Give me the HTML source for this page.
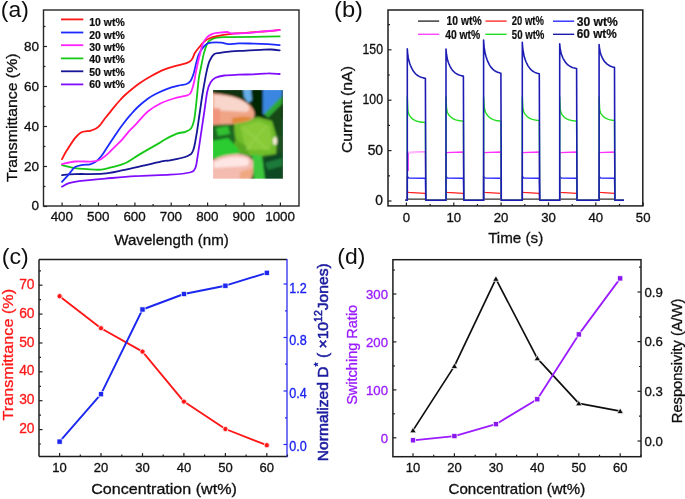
<!DOCTYPE html><html><head><meta charset="utf-8"><style>html,body{margin:0;padding:0;background:#fff;}svg{display:block;will-change:transform;}text{font-family:"Liberation Sans",sans-serif;}</style></head><body>
<svg width="685" height="499" viewBox="0 0 685 499">
<defs><filter id="gb" x="0" y="0" width="100%" height="100%" filterUnits="userSpaceOnUse"><feGaussianBlur stdDeviation="0.45"/></filter><filter id="bl" x="-5%" y="-5%" width="110%" height="110%"><feGaussianBlur stdDeviation="0.8"/></filter><filter id="bl2"><feGaussianBlur stdDeviation="0.6"/></filter><clipPath id="insclip"><rect x="213" y="90" width="70" height="88.7"/></clipPath></defs>
<rect width="685" height="499" fill="#fff"/><g filter="url(#gb)"><rect width="685" height="499" fill="#fff"/>
<g clip-path="url(#insclip)"><g filter="url(#bl)">
<rect x="212" y="89" width="72" height="91" fill="#1a5020"/>
<rect x="212" y="89" width="72" height="30" fill="#0c3010"/>
<polygon points="243,89 252,89 252,100 248,103 244,97" fill="#66aee8"/>
<polygon points="251,89 264,89 262,116 258,119 253,112" fill="#062806"/>
<polygon points="263,89 282,89 282,96 266,114 263,114" fill="#3a86e0"/>
<polygon points="264,114 282,96 282,104 268,118" fill="#2ea834"/>
<polygon points="268,118 282,104 282,136 274,132" fill="#124a18"/>
<polygon points="234,122 258,117 272,121 277,138 276,154 256,157 235,153" fill="#70bc2a"/>
<polygon points="240,126 258,121 270,126 272,140 270,150 246,150" fill="#88ca38"/>
<polygon points="236,140 246,146 250,156 236,153" fill="#58a824"/>
<path d="M244,128 L268,150 M266,126 L246,150" stroke="#a0d858" stroke-width="1.4" fill="none" opacity="0.6"/>
<polygon points="212,123 232,124 236,140 230,148 212,146" fill="#1f6a20"/>
<polygon points="212,141 228,138 236,146 240,152 232,158 212,158" fill="#2ccc30"/>
<polygon points="216,128 228,126 230,134 218,136" fill="#30c030"/>
<ellipse cx="275" cy="141" rx="2.2" ry="4" fill="#f0ead0"/>
<polygon points="262,160 282,152 282,180 264,180" fill="#0f4a22"/>
<polygon points="265,163 282,158 282,166 268,170" fill="#1f7a3a"/>
<polygon points="252,154 262,156 265,180 254,180" fill="#3cc83c"/>
<path d="M212,93 L216,93.5 C228,94.5 240,97.5 247,103 C253,107 256,113 254,117 C252,121 244,122.5 233,124 L212,125 Z" fill="#f0a486"/>
<path d="M214,95 C228,95.5 240,98 247,104 C250,107 250,111 246,112 L214,110 Z" fill="#f8d6cc"/>
<path d="M232,118 C240,117 248,116 252,118 C249,121 242,122.5 232,123.5 Z" fill="#e08838"/>
<rect x="212" y="108" width="8" height="16" fill="#f0907a" opacity="0.8"/>
<path d="M212,160 C220,156 228,154 236,154 C244,154 250,156 253,161 L253,172 C252,178 250,180 248,180 L212,180 Z" fill="#f4bcb0"/>
<path d="M214,162 C224,157 236,156 246,158 C250,160 250,164 246,166 L214,168 Z" fill="#fde6e4"/>
<path d="M240,172 L253,168 L252,178 L240,180 Z" fill="#f0a880"/>
</g></g>
<path d="M62.0,186.6 C63.2,186.0 66.2,184.1 69.0,183.2 C71.8,182.3 73.0,182.0 79.0,181.2 C85.0,180.4 95.7,179.4 105.1,178.6 C114.5,177.8 124.4,176.8 135.2,176.2 C146.0,175.5 160.9,175.3 170.0,174.7 C179.1,174.1 185.6,173.6 189.8,172.5 C194.0,171.4 194.0,170.7 195.3,168.1 C196.6,165.5 196.6,162.6 197.5,157.1 C198.4,151.6 199.7,142.4 200.8,135.1 C201.9,127.8 203.0,120.3 204.1,113.0 C205.2,105.7 206.3,96.1 207.4,91.0 C208.5,85.9 209.4,84.4 210.7,82.2 C212.0,80.0 213.2,78.8 215.4,77.7 C217.7,76.6 220.3,76.0 224.2,75.5 C228.1,75.0 233.9,74.9 238.8,74.7 C243.7,74.5 248.5,74.5 253.4,74.3 C258.3,74.1 263.6,73.3 268.0,73.3 C272.4,73.2 277.8,73.9 279.7,74.0" fill="none" stroke="#8010ff" stroke-width="1.8" stroke-linejoin="round" stroke-linecap="round" />
<path d="M62.0,175.2 C64.2,175.0 68.2,174.3 75.0,174.1 C81.8,173.8 95.1,174.4 103.1,173.7 C111.1,173.0 116.4,171.4 123.1,170.1 C129.8,168.8 136.5,167.2 143.2,165.7 C149.9,164.2 158.7,162.0 163.2,161.1 C167.7,160.2 165.9,161.2 170.0,160.4 C174.1,159.6 183.8,157.7 187.6,156.0 C191.4,154.3 191.6,154.0 193.1,150.5 C194.6,147.0 195.3,141.3 196.4,135.1 C197.5,128.8 198.6,120.3 199.7,113.0 C200.8,105.7 201.8,98.0 203.0,91.0 C204.2,84.0 205.6,76.1 206.7,71.1 C207.8,66.1 208.4,63.7 209.6,60.9 C210.8,58.1 212.3,55.6 214.0,54.3 C215.7,52.9 216.9,53.3 219.8,52.8 C222.7,52.3 227.1,51.8 231.5,51.4 C235.9,51.0 241.2,51.0 246.1,50.7 C251.0,50.5 256.6,50.1 260.7,49.9 C264.8,49.7 267.7,49.4 270.9,49.5 C274.1,49.6 278.2,50.2 279.7,50.4" fill="none" stroke="#141496" stroke-width="1.8" stroke-linejoin="round" stroke-linecap="round" />
<path d="M62.0,165.1 C64.2,165.6 70.8,167.4 75.0,168.1 C79.2,168.8 82.7,168.8 87.0,169.1 C91.3,169.4 97.1,170.0 101.1,169.7 C105.1,169.4 107.1,168.5 111.1,167.4 C115.1,166.3 120.3,165.4 125.1,163.2 C129.9,161.0 134.3,157.4 140.0,154.1 C145.7,150.8 155.2,145.4 159.2,143.1 C163.2,140.8 161.1,141.6 164.1,140.0 C167.1,138.4 173.3,135.1 176.9,133.7 C180.5,132.3 183.1,132.7 185.4,131.8 C187.7,130.9 189.4,130.5 190.9,128.5 C192.4,126.5 193.3,124.0 194.2,119.6 C195.1,115.2 195.7,108.6 196.4,102.0 C197.1,95.4 197.9,85.6 198.6,80.0 C199.3,74.4 199.9,72.6 200.8,68.2 C201.7,63.8 202.8,57.5 203.8,53.6 C204.8,49.7 205.7,47.0 206.7,44.8 C207.7,42.6 207.9,41.6 209.6,40.4 C211.3,39.2 213.2,38.0 216.9,37.5 C220.6,37.0 225.4,37.3 231.5,37.2 C237.6,37.1 245.4,36.9 253.4,36.8 C261.4,36.7 275.3,36.5 279.7,36.4" fill="none" stroke="#14c814" stroke-width="1.8" stroke-linejoin="round" stroke-linecap="round" />
<path d="M62.0,181.8 C63.2,180.5 66.8,176.6 69.0,174.1 C71.2,171.6 72.7,168.6 75.0,167.1 C77.3,165.6 80.5,165.3 83.0,164.8 C85.5,164.3 87.9,164.8 90.0,164.3 C92.1,163.8 93.7,163.2 95.6,161.8 C97.5,160.5 99.3,158.5 101.2,156.2 C103.1,153.9 105.0,150.6 106.9,147.8 C108.8,145.0 110.6,142.1 112.5,139.3 C114.4,136.5 116.2,133.6 118.1,130.9 C120.0,128.2 121.6,125.9 123.7,123.2 C125.8,120.5 128.3,117.4 130.7,114.7 C133.0,112.0 134.9,109.7 137.8,107.0 C140.7,104.3 145.1,100.7 148.1,98.5 C151.1,96.3 152.9,95.3 156.1,93.7 C159.3,92.1 163.6,90.2 167.3,88.8 C171.0,87.4 175.3,86.4 178.5,85.6 C181.7,84.8 184.5,84.8 186.5,84.0 C188.5,83.2 189.3,82.7 190.5,81.0 C191.7,79.3 192.6,76.8 193.5,74.0 C194.4,71.2 195.2,67.2 196.0,64.0 C196.8,60.8 197.4,57.6 198.5,55.0 C199.6,52.4 200.9,50.3 202.3,48.5 C203.7,46.7 205.2,45.1 206.7,44.1 C208.2,43.1 208.7,42.9 211.1,42.6 C213.5,42.4 218.4,42.4 221.3,42.6 C224.2,42.9 225.7,44.0 228.6,44.1 C231.5,44.2 234.7,43.5 238.8,43.4 C242.9,43.3 248.5,43.5 253.4,43.6 C258.3,43.7 263.6,43.9 268.0,44.1 C272.4,44.4 277.8,44.9 279.7,45.1" fill="none" stroke="#1c2cff" stroke-width="1.8" stroke-linejoin="round" stroke-linecap="round" />
<path d="M62.0,159.1 C62.8,157.6 64.8,153.6 67.0,150.1 C69.2,146.6 72.7,141.0 75.0,138.1 C77.3,135.2 79.0,133.7 81.0,132.5 C83.0,131.3 85.5,131.5 87.0,131.2 C88.5,130.9 88.6,131.3 90.0,130.9 C91.4,130.5 94.0,129.7 95.6,128.8 C97.2,127.9 98.4,126.8 99.8,125.3 C101.2,123.8 102.3,121.8 104.0,119.7 C105.7,117.6 107.8,114.9 109.7,112.6 C111.6,110.2 113.5,107.7 115.3,105.6 C117.0,103.5 118.5,101.8 120.2,100.0 C121.9,98.2 122.5,97.2 125.6,94.5 C128.7,91.8 134.2,87.1 138.5,84.0 C142.8,80.9 147.0,78.4 151.3,76.0 C155.6,73.6 159.8,71.3 164.1,69.6 C168.4,67.9 173.2,66.7 176.9,65.6 C180.6,64.5 184.1,64.1 186.5,63.2 C188.9,62.3 190.1,61.7 191.5,60.0 C192.9,58.3 193.7,55.0 195.0,52.8 C196.3,50.6 197.9,48.8 199.4,47.0 C200.9,45.2 202.1,43.4 203.8,41.9 C205.5,40.4 207.4,39.2 209.6,38.2 C211.8,37.2 213.2,36.8 216.9,36.1 C220.6,35.4 226.6,34.5 231.5,33.9 C236.4,33.3 241.2,33.2 246.1,32.8 C251.0,32.4 256.3,32.0 260.7,31.7 C265.1,31.4 269.2,31.2 272.4,30.9 C275.6,30.6 278.5,30.1 279.7,29.9" fill="none" stroke="#ff1414" stroke-width="1.8" stroke-linejoin="round" stroke-linecap="round" />
<path d="M62.0,164.1 C64.2,163.7 70.3,161.9 75.0,161.5 C79.7,161.1 86.6,161.7 90.0,161.6 C93.4,161.5 93.7,161.5 95.6,161.1 C97.5,160.7 99.1,160.3 101.2,159.0 C103.3,157.7 106.0,155.5 108.3,153.4 C110.6,151.3 113.0,148.7 115.3,146.3 C117.6,144.0 120.0,141.9 122.3,139.3 C124.6,136.7 127.0,133.5 129.3,130.9 C131.6,128.3 133.2,127.2 136.3,123.9 C139.4,120.6 144.0,114.7 148.1,111.3 C152.2,107.9 156.6,105.4 160.9,103.3 C165.2,101.2 169.3,99.8 173.7,98.5 C178.1,97.2 184.5,96.2 187.3,95.3 C190.1,94.4 189.6,94.2 190.5,93.0 C191.4,91.8 191.8,90.2 192.5,88.0 C193.2,85.8 193.9,83.0 194.5,80.0 C195.1,77.0 195.6,73.3 196.3,70.0 C197.0,66.7 197.8,63.0 198.5,60.0 C199.2,57.0 199.9,54.5 200.5,52.0 C201.1,49.5 201.3,47.2 202.3,44.8 C203.3,42.4 205.0,39.3 206.7,37.5 C208.4,35.7 210.6,34.7 212.5,33.9 C214.4,33.1 216.0,33.1 218.4,32.8 C220.8,32.5 224.9,31.9 227.1,32.0 C229.3,32.1 228.3,33.2 231.5,33.4 C234.7,33.6 241.2,33.4 246.1,33.1 C251.0,32.8 255.1,32.2 260.7,31.7 C266.3,31.2 276.5,30.4 279.7,30.2" fill="none" stroke="#ff22ff" stroke-width="1.8" stroke-linejoin="round" stroke-linecap="round" />
<rect x="43.5" y="10" width="255.5" height="196" fill="none" stroke="#262626" stroke-width="1.4"/>
<line x1="62.1" y1="206.0" x2="62.1" y2="202.5" stroke="#222" stroke-width="1.2"/>
<line x1="98.5" y1="206.0" x2="98.5" y2="202.5" stroke="#222" stroke-width="1.2"/>
<line x1="134.9" y1="206.0" x2="134.9" y2="202.5" stroke="#222" stroke-width="1.2"/>
<line x1="171.2" y1="206.0" x2="171.2" y2="202.5" stroke="#222" stroke-width="1.2"/>
<line x1="207.6" y1="206.0" x2="207.6" y2="202.5" stroke="#222" stroke-width="1.2"/>
<line x1="244.0" y1="206.0" x2="244.0" y2="202.5" stroke="#222" stroke-width="1.2"/>
<line x1="280.4" y1="206.0" x2="280.4" y2="202.5" stroke="#222" stroke-width="1.2"/>
<line x1="80.3" y1="206.0" x2="80.3" y2="204.0" stroke="#222" stroke-width="1.2"/>
<line x1="116.7" y1="206.0" x2="116.7" y2="204.0" stroke="#222" stroke-width="1.2"/>
<line x1="153.1" y1="206.0" x2="153.1" y2="204.0" stroke="#222" stroke-width="1.2"/>
<line x1="189.4" y1="206.0" x2="189.4" y2="204.0" stroke="#222" stroke-width="1.2"/>
<line x1="225.8" y1="206.0" x2="225.8" y2="204.0" stroke="#222" stroke-width="1.2"/>
<line x1="262.2" y1="206.0" x2="262.2" y2="204.0" stroke="#222" stroke-width="1.2"/>
<line x1="43.5" y1="206.5" x2="47.0" y2="206.5" stroke="#222" stroke-width="1.2"/>
<line x1="43.5" y1="166.5" x2="47.0" y2="166.5" stroke="#222" stroke-width="1.2"/>
<line x1="43.5" y1="126.5" x2="47.0" y2="126.5" stroke="#222" stroke-width="1.2"/>
<line x1="43.5" y1="86.5" x2="47.0" y2="86.5" stroke="#222" stroke-width="1.2"/>
<line x1="43.5" y1="46.5" x2="47.0" y2="46.5" stroke="#222" stroke-width="1.2"/>
<line x1="43.5" y1="186.5" x2="45.5" y2="186.5" stroke="#222" stroke-width="1.2"/>
<line x1="43.5" y1="146.5" x2="45.5" y2="146.5" stroke="#222" stroke-width="1.2"/>
<line x1="43.5" y1="106.5" x2="45.5" y2="106.5" stroke="#222" stroke-width="1.2"/>
<line x1="43.5" y1="66.5" x2="45.5" y2="66.5" stroke="#222" stroke-width="1.2"/>
<line x1="43.5" y1="26.5" x2="45.5" y2="26.5" stroke="#222" stroke-width="1.2"/>
<text x="61.8" y="220.8" font-size="13.4" text-anchor="middle" fill="#111" stroke="#111" stroke-width="0.32" font-weight="normal" >400</text>
<text x="98.2" y="220.8" font-size="13.4" text-anchor="middle" fill="#111" stroke="#111" stroke-width="0.32" font-weight="normal" >500</text>
<text x="134.6" y="220.8" font-size="13.4" text-anchor="middle" fill="#111" stroke="#111" stroke-width="0.32" font-weight="normal" >600</text>
<text x="170.9" y="220.8" font-size="13.4" text-anchor="middle" fill="#111" stroke="#111" stroke-width="0.32" font-weight="normal" >700</text>
<text x="207.3" y="220.8" font-size="13.4" text-anchor="middle" fill="#111" stroke="#111" stroke-width="0.32" font-weight="normal" >800</text>
<text x="243.7" y="220.8" font-size="13.4" text-anchor="middle" fill="#111" stroke="#111" stroke-width="0.32" font-weight="normal" >900</text>
<text x="280.1" y="220.8" font-size="13.4" text-anchor="middle" fill="#111" stroke="#111" stroke-width="0.32" font-weight="normal" >1000</text>
<text x="39.0" y="210.4" font-size="13.5" text-anchor="end" fill="#111" stroke="#111" stroke-width="0.32" font-weight="normal" >0</text>
<text x="39.0" y="171.1" font-size="13.5" text-anchor="end" fill="#111" stroke="#111" stroke-width="0.32" font-weight="normal" >20</text>
<text x="39.0" y="131.1" font-size="13.5" text-anchor="end" fill="#111" stroke="#111" stroke-width="0.32" font-weight="normal" >40</text>
<text x="39.0" y="91.1" font-size="13.5" text-anchor="end" fill="#111" stroke="#111" stroke-width="0.32" font-weight="normal" >60</text>
<text x="39.0" y="51.1" font-size="13.5" text-anchor="end" fill="#111" stroke="#111" stroke-width="0.32" font-weight="normal" >80</text>
<text x="17.5" y="117.8" font-size="15.5" text-anchor="middle" fill="#111" stroke="#111" stroke-width="0.32" font-weight="normal" textLength="128.5" lengthAdjust="spacingAndGlyphs" transform="rotate(-90 17.5 117.8)" >Transmittance (%)</text>
<text x="171.5" y="245.0" font-size="15.4" text-anchor="middle" fill="#111" stroke="#111" stroke-width="0.32" font-weight="normal" textLength="114.5" lengthAdjust="spacingAndGlyphs" >Wavelength (nm)</text>
<text x="0.8" y="16.6" font-size="22" text-anchor="start" fill="#111" stroke="#111" stroke-width="0.0" font-weight="normal" textLength="28" lengthAdjust="spacingAndGlyphs" >(a)</text>
<line x1="61.0" y1="19.4" x2="83.3" y2="19.4" stroke="#ff1414" stroke-width="1.8"/>
<text x="89.3" y="26.2" font-size="10.4" text-anchor="start" fill="#111" stroke="#111" stroke-width="0.22" font-weight="bold" textLength="35.4" lengthAdjust="spacingAndGlyphs" >10 wt%</text>
<line x1="61.0" y1="32.5" x2="83.3" y2="32.5" stroke="#1c2cff" stroke-width="1.8"/>
<text x="89.3" y="38.7" font-size="10.4" text-anchor="start" fill="#111" stroke="#111" stroke-width="0.22" font-weight="bold" textLength="35.4" lengthAdjust="spacingAndGlyphs" >20 wt%</text>
<line x1="61.0" y1="45.2" x2="83.3" y2="45.2" stroke="#ff22ff" stroke-width="1.8"/>
<text x="89.3" y="51.0" font-size="10.4" text-anchor="start" fill="#111" stroke="#111" stroke-width="0.22" font-weight="bold" textLength="35.4" lengthAdjust="spacingAndGlyphs" >30 wt%</text>
<line x1="61.0" y1="58.4" x2="83.3" y2="58.4" stroke="#14c814" stroke-width="1.8"/>
<text x="89.3" y="63.3" font-size="10.4" text-anchor="start" fill="#111" stroke="#111" stroke-width="0.22" font-weight="bold" textLength="35.4" lengthAdjust="spacingAndGlyphs" >40 wt%</text>
<line x1="61.0" y1="71.3" x2="83.3" y2="71.3" stroke="#141496" stroke-width="1.8"/>
<text x="89.3" y="75.7" font-size="10.4" text-anchor="start" fill="#111" stroke="#111" stroke-width="0.22" font-weight="bold" textLength="35.4" lengthAdjust="spacingAndGlyphs" >50 wt%</text>
<line x1="61.0" y1="84.4" x2="83.3" y2="84.4" stroke="#8010ff" stroke-width="1.8"/>
<text x="89.3" y="87.9" font-size="10.4" text-anchor="start" fill="#111" stroke="#111" stroke-width="0.22" font-weight="bold" textLength="35.4" lengthAdjust="spacingAndGlyphs" >60 wt%</text>
<path d="M405.5,200.2 L407.3,200.2 L407.3,199.0 L425.4,199.2 L425.8,200.2 L446.0,200.2 L446.0,199.0 L463.4,199.2 L463.8,200.2 L483.6,200.2 L483.6,199.0 L500.9,199.2 L501.3,200.2 L522.3,200.2 L522.3,199.0 L539.3,199.2 L539.7,200.2 L559.7,200.2 L559.7,199.0 L576.6,199.2 L577.0,200.2 L599.1,200.2 L599.1,199.0 L614.5,199.2 L614.9,200.2 L624.0,200.2" fill="none" stroke="#303030" stroke-width="1.2" stroke-linejoin="round"/>
<path d="M405.5,200.2 L407.3,200.2 L407.3,191.6 L408.3,192.4 L425.4,193.3 L425.8,200.2 L446.0,200.2 L446.0,191.6 L447.0,192.4 L463.4,193.3 L463.8,200.2 L483.6,200.2 L483.6,191.6 L484.6,192.4 L500.9,193.3 L501.3,200.2 L522.3,200.2 L522.3,191.6 L523.3,192.4 L539.3,193.3 L539.7,200.2 L559.7,200.2 L559.7,191.6 L560.7,192.4 L576.6,193.3 L577.0,200.2 L599.1,200.2 L599.1,191.6 L600.1,192.4 L614.5,193.3 L614.9,200.2 L624.0,200.2" fill="none" stroke="#ff2020" stroke-width="1.3" stroke-linejoin="round"/>
<path d="M405.5,200.2 L407.3,200.2 L407.3,176.5 L408.8,178.0 L425.4,178.3 L425.8,200.2 L446.0,200.2 L446.0,176.5 L447.5,178.0 L463.4,178.3 L463.8,200.2 L483.6,200.2 L483.6,176.5 L485.1,178.0 L500.9,178.3 L501.3,200.2 L522.3,200.2 L522.3,176.5 L523.8,178.0 L539.3,178.3 L539.7,200.2 L559.7,200.2 L559.7,176.5 L561.2,178.0 L576.6,178.3 L577.0,200.2 L599.1,200.2 L599.1,176.5 L600.6,178.0 L614.5,178.3 L614.9,200.2 L624.0,200.2" fill="none" stroke="#2a2aff" stroke-width="1.4" stroke-linejoin="round"/>
<path d="M405.5,200.2 L407.3,200.2 L407.3,152.6 L425.4,152.0 L425.8,200.2 L446.0,200.2 L446.0,152.6 L463.4,152.0 L463.8,200.2 L483.6,200.2 L483.6,152.6 L500.9,152.0 L501.3,200.2 L522.3,200.2 L522.3,152.6 L539.3,152.0 L539.7,200.2 L559.7,200.2 L559.7,152.6 L576.6,152.0 L577.0,200.2 L599.1,200.2 L599.1,152.6 L614.5,152.0 L614.9,200.2 L624.0,200.2" fill="none" stroke="#ff33ff" stroke-width="1.3" stroke-linejoin="round"/>
<line x1="408.1" y1="152.6" x2="424.8" y2="152.3" stroke="#ffb8ff" stroke-width="1.5"/>
<line x1="408.3" y1="153.0" x2="408.3" y2="171.0" stroke="#ff40ff" stroke-width="1.2"/>
<path d="M405.5,200.2 L407.3,200.2 L407.3,97.0 L407.8,109.3 L407.9,110.3 L408.2,111.8 L408.5,113.3 L409.0,114.4 L409.4,115.4 L410.0,116.2 L410.6,117.0 L411.3,117.8 L412.0,118.4 L412.8,119.1 L413.6,119.6 L414.5,120.1 L415.4,120.6 L416.3,121.0 L417.3,121.3 L418.4,121.6 L419.5,121.8 L420.6,122.0 L421.7,122.2 L422.9,122.3 L424.1,122.4 L425.4,122.5 L425.8,200.2 L446.0,200.2 L446.0,97.0 L446.5,107.5 L446.6,108.5 L446.9,110.0 L447.2,111.5 L447.6,112.7 L448.1,113.7 L448.6,114.5 L449.2,115.3 L449.8,116.1 L450.5,116.8 L451.3,117.4 L452.1,118.0 L452.9,118.6 L453.8,119.0 L454.7,119.4 L455.7,119.8 L456.7,120.1 L457.7,120.3 L458.8,120.6 L459.9,120.7 L461.0,120.9 L462.2,121.0 L463.4,121.1 L463.8,200.2 L483.6,200.2 L483.6,97.0 L484.1,105.4 L484.2,106.5 L484.5,108.3 L484.8,110.0 L485.2,111.4 L485.7,112.5 L486.2,113.5 L486.8,114.4 L487.4,115.3 L488.1,116.1 L488.9,116.9 L489.6,117.5 L490.5,118.1 L491.3,118.7 L492.3,119.2 L493.2,119.6 L494.2,119.9 L495.2,120.2 L496.3,120.5 L497.4,120.7 L498.5,120.8 L499.7,121.0 L500.9,121.1 L501.3,200.2 L522.3,200.2 L522.3,97.0 L522.8,106.8 L522.9,107.8 L523.2,109.3 L523.5,110.8 L523.9,112.0 L524.3,113.0 L524.9,113.8 L525.4,114.6 L526.1,115.4 L526.7,116.1 L527.5,116.7 L528.2,117.3 L529.1,117.9 L529.9,118.3 L530.8,118.8 L531.7,119.1 L532.7,119.4 L533.7,119.7 L534.8,119.9 L535.9,120.1 L537.0,120.3 L538.1,120.4 L539.3,120.5 L539.7,200.2 L559.7,200.2 L559.7,97.0 L560.2,108.3 L560.3,109.2 L560.6,110.6 L560.9,112.0 L561.3,113.1 L561.7,114.0 L562.3,114.9 L562.8,115.6 L563.5,116.3 L564.1,117.0 L564.8,117.6 L565.6,118.1 L566.4,118.6 L567.3,119.1 L568.2,119.5 L569.1,119.8 L570.1,120.1 L571.1,120.3 L572.1,120.6 L573.2,120.7 L574.3,120.9 L575.4,121.0 L576.6,121.1 L577.0,200.2 L599.1,200.2 L599.1,97.0 L599.6,108.3 L599.7,109.1 L599.9,110.4 L600.2,111.6 L600.6,112.7 L601.0,113.6 L601.5,114.4 L602.0,115.1 L602.6,115.7 L603.2,116.3 L603.8,116.9 L604.5,117.4 L605.2,117.9 L606.0,118.3 L606.8,118.7 L607.7,119.1 L608.6,119.4 L609.5,119.7 L610.4,119.9 L611.4,120.1 L612.4,120.2 L613.4,120.4 L614.5,120.5 L614.9,200.2 L624.0,200.2" fill="none" stroke="#22dd22" stroke-width="1.4" stroke-linejoin="round"/>
<path d="M405.5,200.2 L407.3,200.2 L407.3,48.7 L407.4,50.2 L407.6,52.8 L407.9,55.5 L408.3,57.9 L408.8,60.0 L409.3,61.9 L409.8,63.7 L410.4,65.3 L411.1,66.9 L411.8,68.4 L412.5,69.7 L413.3,71.0 L414.1,72.1 L414.9,73.1 L415.8,74.0 L416.8,74.8 L417.7,75.5 L418.7,76.1 L419.8,76.7 L420.8,77.1 L421.9,77.5 L423.0,77.8 L424.2,78.1 L425.4,78.3 L425.8,200.2 L446.0,200.2 L446.0,49.0 L446.1,50.4 L446.3,52.6 L446.6,55.0 L447.0,57.2 L447.4,59.2 L447.9,60.9 L448.4,62.5 L449.0,64.0 L449.6,65.4 L450.3,66.8 L451.0,68.0 L451.7,69.1 L452.5,70.2 L453.3,71.1 L454.2,72.0 L455.1,72.8 L456.0,73.4 L457.0,74.0 L458.0,74.5 L459.0,74.9 L460.1,75.3 L461.1,75.6 L462.3,75.9 L463.4,76.1 L463.8,200.2 L483.6,200.2 L483.6,40.0 L483.7,41.7 L483.9,44.4 L484.2,47.4 L484.6,50.0 L485.0,52.4 L485.5,54.6 L486.0,56.5 L486.6,58.3 L487.2,60.1 L487.9,61.7 L488.6,63.2 L489.3,64.6 L490.1,65.9 L490.9,67.1 L491.8,68.1 L492.6,69.1 L493.6,69.9 L494.5,70.6 L495.5,71.2 L496.5,71.8 L497.6,72.2 L498.7,72.6 L499.8,72.9 L500.9,73.2 L501.3,200.2 L522.3,200.2 L522.3,42.3 L522.4,43.8 L522.6,46.5 L522.9,49.2 L523.3,51.7 L523.7,54.0 L524.1,56.0 L524.7,57.9 L525.2,59.6 L525.8,61.2 L526.5,62.8 L527.2,64.2 L527.9,65.6 L528.7,66.8 L529.5,67.9 L530.3,68.9 L531.2,69.8 L532.1,70.6 L533.0,71.3 L534.0,71.9 L535.0,72.4 L536.0,72.8 L537.1,73.2 L538.2,73.5 L539.3,73.8 L539.7,200.2 L559.7,200.2 L559.7,43.7 L559.8,44.9 L560.0,47.0 L560.3,49.1 L560.7,51.1 L561.1,52.9 L561.5,54.5 L562.1,55.9 L562.6,57.3 L563.2,58.6 L563.9,59.8 L564.6,60.9 L565.3,62.0 L566.0,62.9 L566.8,63.8 L567.7,64.6 L568.5,65.3 L569.4,65.9 L570.4,66.5 L571.3,67.0 L572.3,67.4 L573.3,67.7 L574.4,68.0 L575.5,68.3 L576.6,68.5 L577.0,200.2 L599.1,200.2 L599.1,44.6 L599.2,45.6 L599.4,47.4 L599.7,49.3 L600.0,51.1 L600.4,52.7 L600.8,54.1 L601.2,55.4 L601.8,56.7 L602.3,57.8 L602.9,58.9 L603.5,60.0 L604.2,61.0 L604.9,61.9 L605.6,62.7 L606.4,63.4 L607.1,64.1 L608.0,64.7 L608.8,65.3 L609.7,65.8 L610.6,66.2 L611.5,66.6 L612.5,66.9 L613.5,67.2 L614.5,67.4 L614.9,200.2 L624.0,200.2" fill="none" stroke="#1e1eb4" stroke-width="1.6" stroke-linejoin="round"/>
<rect x="388" y="10" width="254.79999999999995" height="195.9" fill="none" stroke="#1e1e1e" stroke-width="1.5"/>
<line x1="406.4" y1="205.9" x2="406.4" y2="202.4" stroke="#222" stroke-width="1.2"/>
<line x1="453.8" y1="205.9" x2="453.8" y2="202.4" stroke="#222" stroke-width="1.2"/>
<line x1="501.1" y1="205.9" x2="501.1" y2="202.4" stroke="#222" stroke-width="1.2"/>
<line x1="548.5" y1="205.9" x2="548.5" y2="202.4" stroke="#222" stroke-width="1.2"/>
<line x1="595.8" y1="205.9" x2="595.8" y2="202.4" stroke="#222" stroke-width="1.2"/>
<line x1="643.2" y1="205.9" x2="643.2" y2="202.4" stroke="#222" stroke-width="1.2"/>
<line x1="430.1" y1="205.9" x2="430.1" y2="203.9" stroke="#222" stroke-width="1.2"/>
<line x1="477.4" y1="205.9" x2="477.4" y2="203.9" stroke="#222" stroke-width="1.2"/>
<line x1="524.8" y1="205.9" x2="524.8" y2="203.9" stroke="#222" stroke-width="1.2"/>
<line x1="572.2" y1="205.9" x2="572.2" y2="203.9" stroke="#222" stroke-width="1.2"/>
<line x1="619.5" y1="205.9" x2="619.5" y2="203.9" stroke="#222" stroke-width="1.2"/>
<line x1="388.0" y1="201.0" x2="391.5" y2="201.0" stroke="#222" stroke-width="1.2"/>
<line x1="388.0" y1="150.6" x2="391.5" y2="150.6" stroke="#222" stroke-width="1.2"/>
<line x1="388.0" y1="100.2" x2="391.5" y2="100.2" stroke="#222" stroke-width="1.2"/>
<line x1="388.0" y1="49.8" x2="391.5" y2="49.8" stroke="#222" stroke-width="1.2"/>
<line x1="388.0" y1="175.8" x2="390.0" y2="175.8" stroke="#222" stroke-width="1.2"/>
<line x1="388.0" y1="125.4" x2="390.0" y2="125.4" stroke="#222" stroke-width="1.2"/>
<line x1="388.0" y1="75.0" x2="390.0" y2="75.0" stroke="#222" stroke-width="1.2"/>
<line x1="388.0" y1="24.6" x2="390.0" y2="24.6" stroke="#222" stroke-width="1.2"/>
<text x="406.4" y="221.8" font-size="13.2" text-anchor="middle" fill="#111" stroke="#111" stroke-width="0.32" font-weight="normal" >0</text>
<text x="453.8" y="221.8" font-size="13.2" text-anchor="middle" fill="#111" stroke="#111" stroke-width="0.32" font-weight="normal" >10</text>
<text x="501.1" y="221.8" font-size="13.2" text-anchor="middle" fill="#111" stroke="#111" stroke-width="0.32" font-weight="normal" >20</text>
<text x="548.5" y="221.8" font-size="13.2" text-anchor="middle" fill="#111" stroke="#111" stroke-width="0.32" font-weight="normal" >30</text>
<text x="595.8" y="221.8" font-size="13.2" text-anchor="middle" fill="#111" stroke="#111" stroke-width="0.32" font-weight="normal" >40</text>
<text x="643.2" y="221.8" font-size="13.2" text-anchor="middle" fill="#111" stroke="#111" stroke-width="0.32" font-weight="normal" >50</text>
<text x="383.0" y="204.9" font-size="13.8" text-anchor="end" fill="#111" stroke="#111" stroke-width="0.32" font-weight="normal" >0</text>
<text x="383.0" y="154.5" font-size="13.8" text-anchor="end" fill="#111" stroke="#111" stroke-width="0.32" font-weight="normal" >50</text>
<text x="383.0" y="104.1" font-size="13.8" text-anchor="end" fill="#111" stroke="#111" stroke-width="0.32" font-weight="normal" textLength="20.5" lengthAdjust="spacingAndGlyphs" >100</text>
<text x="383.0" y="53.7" font-size="13.8" text-anchor="end" fill="#111" stroke="#111" stroke-width="0.32" font-weight="normal" textLength="20.5" lengthAdjust="spacingAndGlyphs" >150</text>
<text x="352.0" y="109.6" font-size="15.4" text-anchor="middle" fill="#111" stroke="#111" stroke-width="0.32" font-weight="normal" textLength="87" lengthAdjust="spacingAndGlyphs" transform="rotate(-90 352.0 109.6)" >Current (nA)</text>
<text x="515.7" y="243.4" font-size="15.2" text-anchor="middle" fill="#111" stroke="#111" stroke-width="0.32" font-weight="normal" >Time (s)</text>
<text x="334.0" y="16.6" font-size="22" text-anchor="start" fill="#111" stroke="#111" stroke-width="0.0" font-weight="normal" textLength="29" lengthAdjust="spacingAndGlyphs" >(b)</text>
<line x1="418.0" y1="21.1" x2="439.2" y2="21.1" stroke="#303030" stroke-width="1.4"/>
<text x="446.6" y="25.1" font-size="12" text-anchor="start" fill="#111" stroke="#111" stroke-width="0.22" font-weight="bold" textLength="35" lengthAdjust="spacingAndGlyphs" >10 wt%</text>
<line x1="485.4" y1="21.1" x2="506.6" y2="21.1" stroke="#ff3030" stroke-width="1.4"/>
<text x="511.8" y="25.0" font-size="12" text-anchor="start" fill="#111" stroke="#111" stroke-width="0.22" font-weight="bold" textLength="32" lengthAdjust="spacingAndGlyphs" >20 wt%</text>
<line x1="553.0" y1="21.2" x2="574.2" y2="21.2" stroke="#2a2aff" stroke-width="1.4"/>
<text x="576.8" y="26.0" font-size="12" text-anchor="start" fill="#111" stroke="#111" stroke-width="0.22" font-weight="bold" textLength="41" lengthAdjust="spacingAndGlyphs" >30 wt%</text>
<line x1="418.0" y1="34.3" x2="439.2" y2="34.3" stroke="#ff44ff" stroke-width="1.4"/>
<text x="445.2" y="38.6" font-size="12" text-anchor="start" fill="#111" stroke="#111" stroke-width="0.22" font-weight="bold" textLength="35" lengthAdjust="spacingAndGlyphs" >40 wt%</text>
<line x1="485.4" y1="34.3" x2="506.6" y2="34.3" stroke="#22dd22" stroke-width="1.4"/>
<text x="511.8" y="39.2" font-size="12" text-anchor="start" fill="#111" stroke="#111" stroke-width="0.22" font-weight="bold" textLength="32.6" lengthAdjust="spacingAndGlyphs" >50 wt%</text>
<line x1="553.0" y1="34.3" x2="574.2" y2="34.3" stroke="#1a1ab0" stroke-width="1.4"/>
<text x="576.8" y="38.2" font-size="12" text-anchor="start" fill="#111" stroke="#111" stroke-width="0.22" font-weight="bold" textLength="40" lengthAdjust="spacingAndGlyphs" >60 wt%</text>
<path d="M59.6,296.2 L101.0,328.2 L142.5,351.6 L183.9,401.6 L225.4,429.0 L266.8,445.2" fill="none" stroke="#ff1414" stroke-width="1.8" stroke-linejoin="round" stroke-linecap="round" />
<circle cx="59.6" cy="296.2" r="2.6" fill="#ff1414" stroke="#fff" stroke-width="0.8"/>
<circle cx="101.0" cy="328.2" r="2.6" fill="#ff1414" stroke="#fff" stroke-width="0.8"/>
<circle cx="142.5" cy="351.6" r="2.6" fill="#ff1414" stroke="#fff" stroke-width="0.8"/>
<circle cx="183.9" cy="401.6" r="2.6" fill="#ff1414" stroke="#fff" stroke-width="0.8"/>
<circle cx="225.4" cy="429.0" r="2.6" fill="#ff1414" stroke="#fff" stroke-width="0.8"/>
<circle cx="266.8" cy="445.2" r="2.6" fill="#ff1414" stroke="#fff" stroke-width="0.8"/>
<path d="M59.6,441.6 L101.0,394.2 L142.5,309.5 L183.9,294.0 L225.4,285.7 L266.8,272.8" fill="none" stroke="#1a28ee" stroke-width="1.9" stroke-linejoin="round" stroke-linecap="round" />
<rect x="57.0" y="439.0" width="5.2" height="5.2" fill="#1a28ee" stroke="#fff" stroke-width="0.7"/>
<rect x="98.4" y="391.6" width="5.2" height="5.2" fill="#1a28ee" stroke="#fff" stroke-width="0.7"/>
<rect x="139.9" y="306.9" width="5.2" height="5.2" fill="#1a28ee" stroke="#fff" stroke-width="0.7"/>
<rect x="181.3" y="291.4" width="5.2" height="5.2" fill="#1a28ee" stroke="#fff" stroke-width="0.7"/>
<rect x="222.8" y="283.1" width="5.2" height="5.2" fill="#1a28ee" stroke="#fff" stroke-width="0.7"/>
<rect x="264.2" y="270.2" width="5.2" height="5.2" fill="#1a28ee" stroke="#fff" stroke-width="0.7"/>
<line x1="39.0" y1="259.5" x2="39.0" y2="456.6" stroke="#1e1e1e" stroke-width="1.5"/>
<line x1="39.0" y1="259.5" x2="287.0" y2="259.5" stroke="#1e1e1e" stroke-width="1.5"/>
<line x1="39.0" y1="456.6" x2="287.0" y2="456.6" stroke="#1e1e1e" stroke-width="1.5"/>
<line x1="287.0" y1="258.9" x2="287.0" y2="457.2" stroke="#2a2af0" stroke-width="1.3"/>
<line x1="59.6" y1="456.6" x2="59.6" y2="453.1" stroke="#222" stroke-width="1.2"/>
<line x1="101.0" y1="456.6" x2="101.0" y2="453.1" stroke="#222" stroke-width="1.2"/>
<line x1="142.5" y1="456.6" x2="142.5" y2="453.1" stroke="#222" stroke-width="1.2"/>
<line x1="183.9" y1="456.6" x2="183.9" y2="453.1" stroke="#222" stroke-width="1.2"/>
<line x1="225.4" y1="456.6" x2="225.4" y2="453.1" stroke="#222" stroke-width="1.2"/>
<line x1="266.8" y1="456.6" x2="266.8" y2="453.1" stroke="#222" stroke-width="1.2"/>
<line x1="80.3" y1="456.6" x2="80.3" y2="454.6" stroke="#222" stroke-width="1.2"/>
<line x1="121.8" y1="456.6" x2="121.8" y2="454.6" stroke="#222" stroke-width="1.2"/>
<line x1="163.2" y1="456.6" x2="163.2" y2="454.6" stroke="#222" stroke-width="1.2"/>
<line x1="204.6" y1="456.6" x2="204.6" y2="454.6" stroke="#222" stroke-width="1.2"/>
<line x1="246.1" y1="456.6" x2="246.1" y2="454.6" stroke="#222" stroke-width="1.2"/>
<line x1="287.5" y1="456.6" x2="287.5" y2="454.6" stroke="#222" stroke-width="1.2"/>
<line x1="39.0" y1="429.6" x2="42.5" y2="429.6" stroke="#222" stroke-width="1.2"/>
<line x1="39.0" y1="400.7" x2="42.5" y2="400.7" stroke="#222" stroke-width="1.2"/>
<line x1="39.0" y1="371.8" x2="42.5" y2="371.8" stroke="#222" stroke-width="1.2"/>
<line x1="39.0" y1="343.0" x2="42.5" y2="343.0" stroke="#222" stroke-width="1.2"/>
<line x1="39.0" y1="314.1" x2="42.5" y2="314.1" stroke="#222" stroke-width="1.2"/>
<line x1="39.0" y1="285.2" x2="42.5" y2="285.2" stroke="#222" stroke-width="1.2"/>
<line x1="39.0" y1="444.0" x2="41.0" y2="444.0" stroke="#222" stroke-width="1.2"/>
<line x1="39.0" y1="415.2" x2="41.0" y2="415.2" stroke="#222" stroke-width="1.2"/>
<line x1="39.0" y1="386.3" x2="41.0" y2="386.3" stroke="#222" stroke-width="1.2"/>
<line x1="39.0" y1="357.4" x2="41.0" y2="357.4" stroke="#222" stroke-width="1.2"/>
<line x1="39.0" y1="328.5" x2="41.0" y2="328.5" stroke="#222" stroke-width="1.2"/>
<line x1="39.0" y1="299.6" x2="41.0" y2="299.6" stroke="#222" stroke-width="1.2"/>
<line x1="39.0" y1="270.8" x2="41.0" y2="270.8" stroke="#222" stroke-width="1.2"/>
<line x1="287.0" y1="444.5" x2="283.5" y2="444.5" stroke="#2a2af0" stroke-width="1.2"/>
<line x1="287.0" y1="391.0" x2="283.5" y2="391.0" stroke="#2a2af0" stroke-width="1.2"/>
<line x1="287.0" y1="337.5" x2="283.5" y2="337.5" stroke="#2a2af0" stroke-width="1.2"/>
<line x1="287.0" y1="284.0" x2="283.5" y2="284.0" stroke="#2a2af0" stroke-width="1.2"/>
<line x1="287.0" y1="417.8" x2="285.0" y2="417.8" stroke="#2a2af0" stroke-width="1.2"/>
<line x1="287.0" y1="364.2" x2="285.0" y2="364.2" stroke="#2a2af0" stroke-width="1.2"/>
<line x1="287.0" y1="310.8" x2="285.0" y2="310.8" stroke="#2a2af0" stroke-width="1.2"/>
<text x="59.6" y="472.4" font-size="13" text-anchor="middle" fill="#111" stroke="#111" stroke-width="0.32" font-weight="normal" >10</text>
<text x="101.0" y="472.4" font-size="13" text-anchor="middle" fill="#111" stroke="#111" stroke-width="0.32" font-weight="normal" >20</text>
<text x="142.5" y="472.4" font-size="13" text-anchor="middle" fill="#111" stroke="#111" stroke-width="0.32" font-weight="normal" >30</text>
<text x="183.9" y="472.4" font-size="13" text-anchor="middle" fill="#111" stroke="#111" stroke-width="0.32" font-weight="normal" >40</text>
<text x="225.4" y="472.4" font-size="13" text-anchor="middle" fill="#111" stroke="#111" stroke-width="0.32" font-weight="normal" >50</text>
<text x="266.8" y="472.4" font-size="13" text-anchor="middle" fill="#111" stroke="#111" stroke-width="0.32" font-weight="normal" >60</text>
<text x="34.5" y="433.2" font-size="13.8" text-anchor="end" fill="#ff1a1a" stroke="#ff1a1a" stroke-width="0.32" font-weight="normal" >20</text>
<text x="34.5" y="404.3" font-size="13.8" text-anchor="end" fill="#ff1a1a" stroke="#ff1a1a" stroke-width="0.32" font-weight="normal" >30</text>
<text x="34.5" y="375.4" font-size="13.8" text-anchor="end" fill="#ff1a1a" stroke="#ff1a1a" stroke-width="0.32" font-weight="normal" >40</text>
<text x="34.5" y="346.6" font-size="13.8" text-anchor="end" fill="#ff1a1a" stroke="#ff1a1a" stroke-width="0.32" font-weight="normal" >50</text>
<text x="34.5" y="317.7" font-size="13.8" text-anchor="end" fill="#ff1a1a" stroke="#ff1a1a" stroke-width="0.32" font-weight="normal" >60</text>
<text x="34.5" y="288.8" font-size="13.8" text-anchor="end" fill="#ff1a1a" stroke="#ff1a1a" stroke-width="0.32" font-weight="normal" >70</text>
<text x="289.3" y="450.5" font-size="13.8" text-anchor="start" fill="#1a22f0" stroke="#1a22f0" stroke-width="0.32" font-weight="normal" textLength="17.5" lengthAdjust="spacingAndGlyphs" >0.0</text>
<text x="289.3" y="397.8" font-size="13.8" text-anchor="start" fill="#1a22f0" stroke="#1a22f0" stroke-width="0.32" font-weight="normal" textLength="17.5" lengthAdjust="spacingAndGlyphs" >0.4</text>
<text x="289.3" y="345.2" font-size="13.8" text-anchor="start" fill="#1a22f0" stroke="#1a22f0" stroke-width="0.32" font-weight="normal" textLength="17.5" lengthAdjust="spacingAndGlyphs" >0.8</text>
<text x="289.3" y="292.5" font-size="13.8" text-anchor="start" fill="#1a22f0" stroke="#1a22f0" stroke-width="0.32" font-weight="normal" textLength="17.5" lengthAdjust="spacingAndGlyphs" >1.2</text>
<text x="12.6" y="354.7" font-size="14.8" text-anchor="middle" fill="#ff1a1a" stroke="#ff1a1a" stroke-width="0.32" font-weight="normal" textLength="131.5" lengthAdjust="spacingAndGlyphs" transform="rotate(-90 12.6 354.7)" >Transmittance (%)</text>
<text x="328" y="461.3" font-size="15" fill="#1c1ca0" stroke="#1c1ca0" stroke-width="0.55" transform="rotate(-90 328 461.3)" textLength="198" lengthAdjust="spacingAndGlyphs">Normalized D<tspan dy="-6" font-size="10">*</tspan><tspan dy="6"> ( ×10</tspan><tspan dy="-6" font-size="10">12</tspan><tspan dy="6">Jones)</tspan></text>
<text x="164.0" y="494.1" font-size="15.5" text-anchor="middle" fill="#111" stroke="#111" stroke-width="0.32" font-weight="normal" textLength="145.6" lengthAdjust="spacingAndGlyphs" >Concentration (wt%)</text>
<text x="1.8" y="264.3" font-size="22" text-anchor="start" fill="#111" stroke="#111" stroke-width="0.0" font-weight="normal" textLength="27" lengthAdjust="spacingAndGlyphs" >(c)</text>
<path d="M413.0,430.4 L454.4,366.1 L495.9,278.9 L537.3,358.3 L578.8,403.4 L620.2,411.2" fill="none" stroke="#111" stroke-width="1.7" stroke-linejoin="round" stroke-linecap="round" />
<polygon points="409.8,432.8 416.2,432.8 413.0,427.2" fill="#111" stroke="#fff" stroke-width="0.7"/>
<polygon points="451.2,368.5 457.6,368.5 454.4,362.9" fill="#111" stroke="#fff" stroke-width="0.7"/>
<polygon points="492.7,281.3 499.1,281.3 495.9,275.7" fill="#111" stroke="#fff" stroke-width="0.7"/>
<polygon points="534.1,360.7 540.5,360.7 537.3,355.1" fill="#111" stroke="#fff" stroke-width="0.7"/>
<polygon points="575.6,405.8 582.0,405.8 578.8,400.2" fill="#111" stroke="#fff" stroke-width="0.7"/>
<polygon points="617.0,413.6 623.4,413.6 620.2,408.0" fill="#111" stroke="#fff" stroke-width="0.7"/>
<path d="M413.0,440.3 L454.4,436.1 L495.9,424.2 L537.3,399.3 L578.8,334.4 L620.2,278.4" fill="none" stroke="#9a1cff" stroke-width="1.8" stroke-linejoin="round" stroke-linecap="round" />
<rect x="410.4" y="437.7" width="5.2" height="5.2" fill="#8a14f0" stroke="#fff" stroke-width="0.7"/>
<rect x="451.8" y="433.5" width="5.2" height="5.2" fill="#8a14f0" stroke="#fff" stroke-width="0.7"/>
<rect x="493.3" y="421.6" width="5.2" height="5.2" fill="#8a14f0" stroke="#fff" stroke-width="0.7"/>
<rect x="534.7" y="396.7" width="5.2" height="5.2" fill="#8a14f0" stroke="#fff" stroke-width="0.7"/>
<rect x="576.2" y="331.8" width="5.2" height="5.2" fill="#8a14f0" stroke="#fff" stroke-width="0.7"/>
<rect x="617.6" y="275.8" width="5.2" height="5.2" fill="#8a14f0" stroke="#fff" stroke-width="0.7"/>
<rect x="392.9" y="259.7" width="248.10000000000002" height="197.0" fill="none" stroke="#1e1e1e" stroke-width="1.5"/>
<line x1="413.0" y1="456.7" x2="413.0" y2="453.2" stroke="#222" stroke-width="1.2"/>
<line x1="454.4" y1="456.7" x2="454.4" y2="453.2" stroke="#222" stroke-width="1.2"/>
<line x1="495.9" y1="456.7" x2="495.9" y2="453.2" stroke="#222" stroke-width="1.2"/>
<line x1="537.3" y1="456.7" x2="537.3" y2="453.2" stroke="#222" stroke-width="1.2"/>
<line x1="578.8" y1="456.7" x2="578.8" y2="453.2" stroke="#222" stroke-width="1.2"/>
<line x1="620.2" y1="456.7" x2="620.2" y2="453.2" stroke="#222" stroke-width="1.2"/>
<line x1="433.7" y1="456.7" x2="433.7" y2="454.7" stroke="#222" stroke-width="1.2"/>
<line x1="475.2" y1="456.7" x2="475.2" y2="454.7" stroke="#222" stroke-width="1.2"/>
<line x1="516.6" y1="456.7" x2="516.6" y2="454.7" stroke="#222" stroke-width="1.2"/>
<line x1="558.0" y1="456.7" x2="558.0" y2="454.7" stroke="#222" stroke-width="1.2"/>
<line x1="599.5" y1="456.7" x2="599.5" y2="454.7" stroke="#222" stroke-width="1.2"/>
<line x1="640.9" y1="456.7" x2="640.9" y2="454.7" stroke="#222" stroke-width="1.2"/>
<line x1="392.9" y1="437.8" x2="396.4" y2="437.8" stroke="#222" stroke-width="1.2"/>
<line x1="392.9" y1="389.9" x2="396.4" y2="389.9" stroke="#222" stroke-width="1.2"/>
<line x1="392.9" y1="341.9" x2="396.4" y2="341.9" stroke="#222" stroke-width="1.2"/>
<line x1="392.9" y1="294.0" x2="396.4" y2="294.0" stroke="#222" stroke-width="1.2"/>
<line x1="392.9" y1="413.8" x2="394.9" y2="413.8" stroke="#222" stroke-width="1.2"/>
<line x1="392.9" y1="365.9" x2="394.9" y2="365.9" stroke="#222" stroke-width="1.2"/>
<line x1="392.9" y1="317.9" x2="394.9" y2="317.9" stroke="#222" stroke-width="1.2"/>
<line x1="392.9" y1="270.0" x2="394.9" y2="270.0" stroke="#222" stroke-width="1.2"/>
<line x1="641.0" y1="441.0" x2="637.5" y2="441.0" stroke="#222" stroke-width="1.2"/>
<line x1="641.0" y1="391.3" x2="637.5" y2="391.3" stroke="#222" stroke-width="1.2"/>
<line x1="641.0" y1="341.6" x2="637.5" y2="341.6" stroke="#222" stroke-width="1.2"/>
<line x1="641.0" y1="292.0" x2="637.5" y2="292.0" stroke="#222" stroke-width="1.2"/>
<line x1="641.0" y1="416.2" x2="639.0" y2="416.2" stroke="#222" stroke-width="1.2"/>
<line x1="641.0" y1="366.5" x2="639.0" y2="366.5" stroke="#222" stroke-width="1.2"/>
<line x1="641.0" y1="316.8" x2="639.0" y2="316.8" stroke="#222" stroke-width="1.2"/>
<line x1="641.0" y1="267.1" x2="639.0" y2="267.1" stroke="#222" stroke-width="1.2"/>
<text x="413.0" y="472.4" font-size="13" text-anchor="middle" fill="#111" stroke="#111" stroke-width="0.32" font-weight="normal" >10</text>
<text x="454.4" y="472.4" font-size="13" text-anchor="middle" fill="#111" stroke="#111" stroke-width="0.32" font-weight="normal" >20</text>
<text x="495.9" y="472.4" font-size="13" text-anchor="middle" fill="#111" stroke="#111" stroke-width="0.32" font-weight="normal" >30</text>
<text x="537.3" y="472.4" font-size="13" text-anchor="middle" fill="#111" stroke="#111" stroke-width="0.32" font-weight="normal" >40</text>
<text x="578.8" y="472.4" font-size="13" text-anchor="middle" fill="#111" stroke="#111" stroke-width="0.32" font-weight="normal" >50</text>
<text x="620.2" y="472.4" font-size="13" text-anchor="middle" fill="#111" stroke="#111" stroke-width="0.32" font-weight="normal" >60</text>
<text x="388.0" y="442.6" font-size="13.2" text-anchor="end" fill="#9a1cff" stroke="#9a1cff" stroke-width="0.32" font-weight="normal" >0</text>
<text x="388.0" y="394.7" font-size="13.2" text-anchor="end" fill="#9a1cff" stroke="#9a1cff" stroke-width="0.32" font-weight="normal" >100</text>
<text x="388.0" y="346.7" font-size="13.2" text-anchor="end" fill="#9a1cff" stroke="#9a1cff" stroke-width="0.32" font-weight="normal" >200</text>
<text x="388.0" y="298.8" font-size="13.2" text-anchor="end" fill="#9a1cff" stroke="#9a1cff" stroke-width="0.32" font-weight="normal" >300</text>
<text x="644.5" y="445.8" font-size="13.2" text-anchor="start" fill="#111" stroke="#111" stroke-width="0.32" font-weight="normal" >0.0</text>
<text x="644.5" y="396.1" font-size="13.2" text-anchor="start" fill="#111" stroke="#111" stroke-width="0.32" font-weight="normal" >0.3</text>
<text x="644.5" y="346.4" font-size="13.2" text-anchor="start" fill="#111" stroke="#111" stroke-width="0.32" font-weight="normal" >0.6</text>
<text x="644.5" y="296.8" font-size="13.2" text-anchor="start" fill="#111" stroke="#111" stroke-width="0.32" font-weight="normal" >0.9</text>
<text x="356.6" y="354.8" font-size="15.5" text-anchor="middle" fill="#9a1cff" stroke="#9a1cff" stroke-width="0.32" font-weight="normal" textLength="100" lengthAdjust="spacingAndGlyphs" transform="rotate(-90 356.6 354.8)" >Switching Ratio</text>
<text x="681.6" y="360.9" font-size="14.9" text-anchor="middle" fill="#111" stroke="#111" stroke-width="0.32" font-weight="normal" textLength="124.5" lengthAdjust="spacingAndGlyphs" transform="rotate(-90 681.6 360.9)" >Responsivity (A/W)</text>
<text x="516.9" y="494.1" font-size="14.8" text-anchor="middle" fill="#111" stroke="#111" stroke-width="0.32" font-weight="normal" textLength="136.6" lengthAdjust="spacingAndGlyphs" >Concentration (wt%)</text>
<text x="337.3" y="263.9" font-size="22" text-anchor="start" fill="#111" stroke="#111" stroke-width="0.0" font-weight="normal" textLength="28" lengthAdjust="spacingAndGlyphs" >(d)</text>
</g></svg></body></html>
